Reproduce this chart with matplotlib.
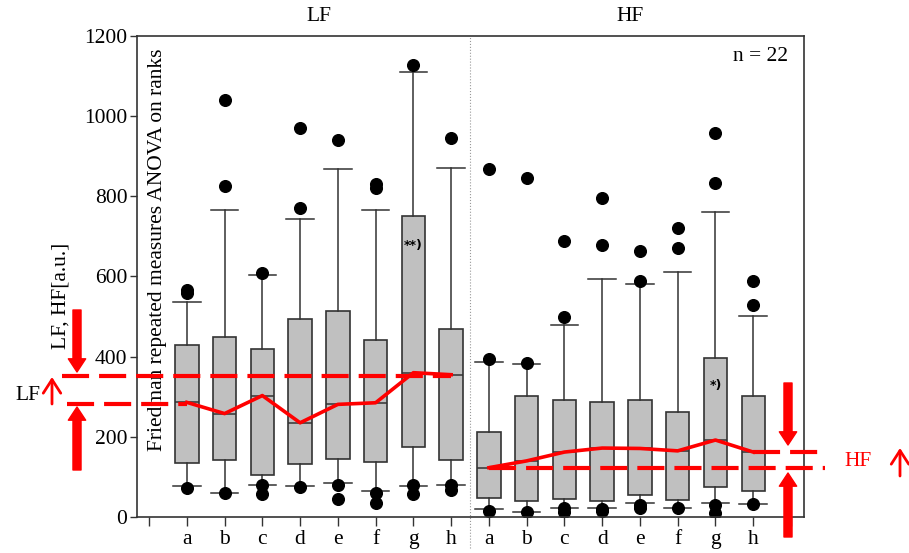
import numpy as np
import matplotlib.pyplot as plt
from matplotlib.transforms import blended_transform_factory

plt.rcParams['font.family'] = ['Liberation Serif', 'DejaVu Serif']

# categories (LF a-h, then HF a-h)
labels = list("abcdefgh")

# LF box statistics
lf_q1 = [134, 142, 106, 131, 145, 136, 174, 142]
lf_med = [286, 258, 303, 235, 281, 285, 360, 355]
lf_q3 = [428, 450, 419, 495, 513, 441, 752, 468]
lf_lo = [77, 59, 79, 77, 86, 66, 78, 80]
lf_hi = [537, 766, 603, 743, 868, 766, 1110, 870]
lf_fliers = [[566, 560, 72], [827, 1040, 59], [608, 79, 57], [770, 970, 74],
             [940, 81, 45], [822, 830, 59, 34], [1127, 80, 57], [945, 80, 68]]

# HF box statistics
hf_q1 = [47, 40, 45, 40, 55, 43, 74, 65]
hf_med = [123, 140, 162, 172, 171, 165, 192, 162]
hf_q3 = [211, 302, 291, 288, 292, 263, 396, 302]
hf_lo = [20, 13, 23, 23, 34, 22, 36, 32]
hf_hi = [387, 381, 479, 594, 582, 610, 760, 501]
hf_fliers = [[393, 867, 15], [383, 845, 13], [498, 688, 23, 12], [678, 795, 20, 15],
             [590, 663, 30, 22], [672, 720, 22], [833, 958, 30, 10], [529, 590, 32]]

# reference levels (dashed red lines)
lf_level_low, lf_level_high = 282, 352
hf_level_low, hf_level_high = 121, 161

lf_pos = np.arange(1, 9)
hf_pos = np.arange(9, 17)

fig = plt.figure(figsize=(9.09, 5.53), dpi=100)
ax = fig.add_axes([0.1507, 0.0651, 0.734, 0.8698])

stats = []
for q1, med, q3, lo, hi, fl in zip(lf_q1 + hf_q1, lf_med + hf_med, lf_q3 + hf_q3,
                                   lf_lo + hf_lo, lf_hi + hf_hi, lf_fliers + hf_fliers):
    stats.append(dict(q1=q1, med=med, q3=q3, whislo=lo, whishi=hi, fliers=fl))

edge = '#333333'
ax.bxp(stats, positions=list(lf_pos) + list(hf_pos), widths=0.62, capwidths=0.73,
       patch_artist=True,
       boxprops=dict(facecolor='#c0c0c0', edgecolor=edge, linewidth=1.2),
       whiskerprops=dict(color=edge, linewidth=1.1),
       capprops=dict(color=edge, linewidth=1.1),
       medianprops=dict(color=edge, linewidth=1.1),
       flierprops=dict(marker='o', markerfacecolor='black', markeredgecolor='black',
                       markersize=8.4))

red = '#ff0000'
dash = (0, (6.5, 2.4))
# median lines
ax.plot(lf_pos, lf_med, color=red, lw=2.6, zorder=5)
ax.plot(hf_pos, hf_med, color=red, lw=2.6, zorder=5)
# dashed reference lines
ax.plot([-2.3, 8], [lf_level_high] * 2, color=red, lw=3, ls=dash, clip_on=False, zorder=4)
ax.plot([-2.17, 1], [lf_level_low] * 2, color=red, lw=3, ls=dash, clip_on=False, zorder=4)
ax.plot([16, 17.9], [hf_level_high] * 2, color=red, lw=3, ls=dash, clip_on=False, zorder=4)
ax.plot([9, 17.9], [hf_level_low] * 2, color=red, lw=3, ls=dash, clip_on=False, zorder=4)

# LF / HF divider
trans = blended_transform_factory(ax.transData, ax.transAxes)
ax.plot([8.5, 8.5], [-0.065, 1], color='#999999', lw=0.8, ls=':', transform=trans,
        clip_on=False)

fs = 15.5
ax.set_xlim(-0.32, 17.35)
ax.set_ylim(0, 1200)
ax.set_xticks(np.arange(0, 18))
ax.set_xticklabels([''] + labels + labels + [''], fontsize=fs)
ax.set_yticks(np.arange(0, 1201, 200))
ax.tick_params(axis='y', labelsize=fs, length=5, width=1, color=edge, pad=2)
ax.tick_params(axis='x', length=6.5, width=1, color=edge, pad=3)
for s in ax.spines.values():
    s.set_color(edge)
    s.set_linewidth(1.2)

ax.set_ylabel('LF, HF[a.u.]', fontsize=fs)
ax.yaxis.set_label_coords(-0.100, 0.46)
ax.text(0.22, 666, 'Friedman repeated measures ANOVA on ranks', rotation=90,
        fontsize=fs, va='center', ha='center')
ax.text(4.5, 1.02, 'LF', transform=trans, ha='center', va='bottom', fontsize=fs)
ax.text(12.75, 1.02, 'HF', transform=trans, ha='center', va='bottom', fontsize=fs)
ax.text(16.93, 1148, 'n = 22', ha='right', va='center', fontsize=fs)
ax.text(7, 678, '**)', ha='center', va='center', fontsize=9, fontweight='bold',
        family='DejaVu Sans')
ax.text(15, 327, '*)', ha='center', va='center', fontsize=9, fontweight='bold',
        family='DejaVu Sans')

# annotation arrows (figure pixels, origin bottom-left)
H = 553
thick = dict(arrowstyle='simple,head_length=0.95,head_width=1.25,tail_width=0.58',
             mutation_scale=10, color=red, shrinkA=0, shrinkB=0)
thin = dict(arrowstyle='->,head_length=0.7,head_width=0.45', mutation_scale=14,
            color=red, lw=2, shrinkA=0, shrinkB=0)
for x, y0, y1 in [(77, 310, 372), (77, 470, 407), (788, 383, 445), (788, 537, 473)]:
    ax.annotate('', xy=(x, H - y1), xytext=(x, H - y0), xycoords='figure pixels',
                textcoords='figure pixels', arrowprops=thick, annotation_clip=False)
for x, y0, y1 in [(52, 404, 377), (900, 476, 448)]:
    ax.annotate('', xy=(x, H - y1), xytext=(x, H - y0), xycoords='figure pixels',
                textcoords='figure pixels', arrowprops=thin, annotation_clip=False)
fig.text(28 / 909, 1 - 396 / H, 'LF', ha='center', va='center', fontsize=fs)
fig.text(858 / 909, 1 - 462 / H, 'HF', ha='center', va='center', fontsize=fs, color=red)

fig.savefig('out.png', dpi=100)
